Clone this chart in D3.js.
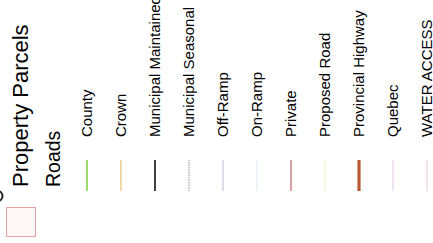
<!DOCTYPE html>
<html><head><meta charset="utf-8">
<script src="https://cdn.jsdelivr.net/npm/d3@7"></script>
<style>html,body{margin:0;padding:0;background:#fff;overflow:hidden}</style>
</head><body>
<svg id="c" width="433" height="243"></svg>
<script>
const groupTitles = ["Property Parcels", "Roads"];
const titleSizes = [22, 19.5];
const roadCategories = ["County","Crown","Municipal Maintained","Municipal Seasonal","Off-Ramp","On-Ramp","Private","Proposed Road","Provincial Highway","Quebec","WATER ACCESS"];
const roadColors = ["#86d24c","#f0d8a6","#111111","#a9a9a9","#d9d2e2","#eef5f8","#d28a8c","#f5f5e2","#b95a36","#e9e0ee","#f3dce6"];
const roadWidths = [1.6,2,1.6,1.4,1.6,2,1.6,2,3.2,1.6,1.6];
const roadDash = [null,null,null,"1.5,1",null,null,null,null,null,null,null];

const W = 433, H = 243;
const svg = d3.select("#c");
// legend drawn in a rotated frame: u along text direction, v across
const g = svg.append("g").attr("transform", `translate(0,${H}) rotate(-90)`);

const font = "Liberation Sans, Arial, Helvetica, sans-serif";

// partially visible symbol of a previous layer
g.append("circle").attr("cx", 47).attr("cy", -2.5).attr("r", 5)
  .attr("fill", "none").attr("stroke", "#222").attr("stroke-width", 2);

// Property Parcels swatch
g.append("rect").attr("x", 6.5).attr("y", 6.5).attr("width", 29).attr("height", 29)
  .attr("fill", "#fdf7f7").attr("stroke", "#e7a3a3").attr("stroke-width", 1);

const titleY = d3.scalePoint().domain(groupTitles).range([27.5, 59.5]);
g.selectAll("text.title").data(groupTitles).join("text").attr("class","title")
  .attr("x", 56).attr("y", d => titleY(d))
  .attr("font-family", font).attr("font-size", (d,i) => titleSizes[i]).attr("fill", "#000")
  .text(d => d);

const v = d3.scalePoint().domain(roadCategories).range([87, 427]);
const items = g.selectAll("g.item").data(roadCategories).join("g").attr("class","item");
items.append("line")
  .attr("x1", 52).attr("x2", 83)
  .attr("y1", d => v(d)).attr("y2", d => v(d))
  .attr("stroke", (d,i) => roadColors[i])
  .attr("stroke-width", (d,i) => roadWidths[i])
  .attr("stroke-dasharray", (d,i) => roadDash[i]);
items.append("text")
  .attr("x", 106).attr("y", d => v(d) + 4.5)
  .attr("font-family", font).attr("font-size", 15).attr("fill", "#000")
  .text(d => d);
</script>
</body></html>
